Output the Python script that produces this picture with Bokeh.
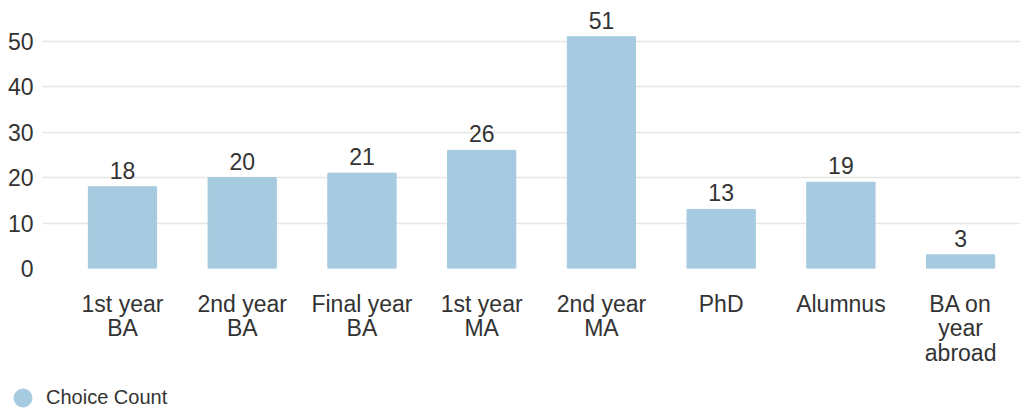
from bokeh.plotting import figure
from bokeh.layouts import column
from bokeh.models import (ColumnDataSource, FixedTicker, Range1d, Legend, LegendItem)
from bokeh.core.properties import value
from bokeh.embed import file_html
from bokeh.resources import INLINE

categories = ["1st year\nBA", "2nd year\nBA", "Final year\nBA", "1st year\nMA",
              "2nd year\nMA", "PhD", "Alumnus", "BA on\nyear\nabroad"]
counts = [18, 20, 21, 26, 51, 13, 19, 3]
y_ticks = [0, 10, 20, 30, 40, 50]
series_name = "Choice Count"

FONT = "Liberation Sans"
TEXT = "#333333"
BAR = "#a6cadf"

xs = list(range(len(categories)))
src = ColumnDataSource(dict(x=xs, count=counts, label=[str(c) for c in counts]))

p = figure(width=1032, height=370, output_backend="svg", toolbar_location=None,
           x_range=Range1d(-0.668, len(categories) - 0.5), y_range=Range1d(0, 57),
           min_border_left=42, min_border_right=12, min_border_top=9, min_border_bottom=102)
p.outline_line_color = None
p.frame_align = False

bars = p.vbar(x="x", top="count", width=0.57, color=BAR, source=src)
p.text(x="x", y="count", text="label", source=src, text_align="center",
       text_baseline="bottom", y_offset=-8, text_font=value(FONT),
       text_font_size="23px", text_color=TEXT)

# x axis: category labels (multi-line)
p.xaxis.ticker = FixedTicker(ticks=xs)
p.xaxis.major_label_overrides = {i: c for i, c in enumerate(categories)}
p.xaxis.axis_line_color = None
p.xaxis.major_tick_line_color = None
p.xaxis.minor_tick_line_color = None
p.xaxis.major_label_standoff = 16
p.xaxis.major_label_text_font = FONT
p.xaxis.major_label_text_font_size = "23px"
p.xaxis.major_label_text_color = TEXT
p.xaxis.major_label_text_line_height = 0.96
p.xgrid.grid_line_color = None

# y axis
p.yaxis.ticker = FixedTicker(ticks=y_ticks)
p.yaxis.axis_line_color = None
p.yaxis.major_tick_line_color = None
p.yaxis.minor_tick_line_color = None
p.yaxis.major_label_standoff = 3
p.yaxis.major_label_text_font = FONT
p.yaxis.major_label_text_font_size = "23px"
p.yaxis.major_label_text_color = TEXT
p.ygrid.grid_line_color = "#e6e6e6"
p.ygrid.grid_line_width = 1.5
p.ygrid.ticker = FixedTicker(ticks=y_ticks)

# legend strip under the chart (own frame, not aligned with the chart's)
lg = figure(width=1032, height=42, output_backend="svg", toolbar_location=None,
            x_range=Range1d(0, 1), y_range=Range1d(0, 1),
            x_axis_location=None, y_axis_location=None,
            min_border_left=0, min_border_right=0, min_border_top=0, min_border_bottom=0)
lg.frame_align = False
lg.outline_line_color = None
lg.xgrid.grid_line_color = None
lg.ygrid.grid_line_color = None
dot = lg.scatter(x=[float("nan")], y=[float("nan")], marker="circle", color=BAR)
legend = Legend(items=[LegendItem(label=series_name, renderers=[dot])],
                location=(0, -8), orientation="horizontal",
                border_line_color=None, background_fill_alpha=0,
                label_text_font=FONT, label_text_font_size="20px",
                label_text_color=TEXT, glyph_width=45, glyph_height=45,
                label_standoff=1, margin=0, padding=0)
lg.add_layout(legend, "center")

open("out.html", "w").write(file_html(column(p, lg, spacing=0), INLINE))
